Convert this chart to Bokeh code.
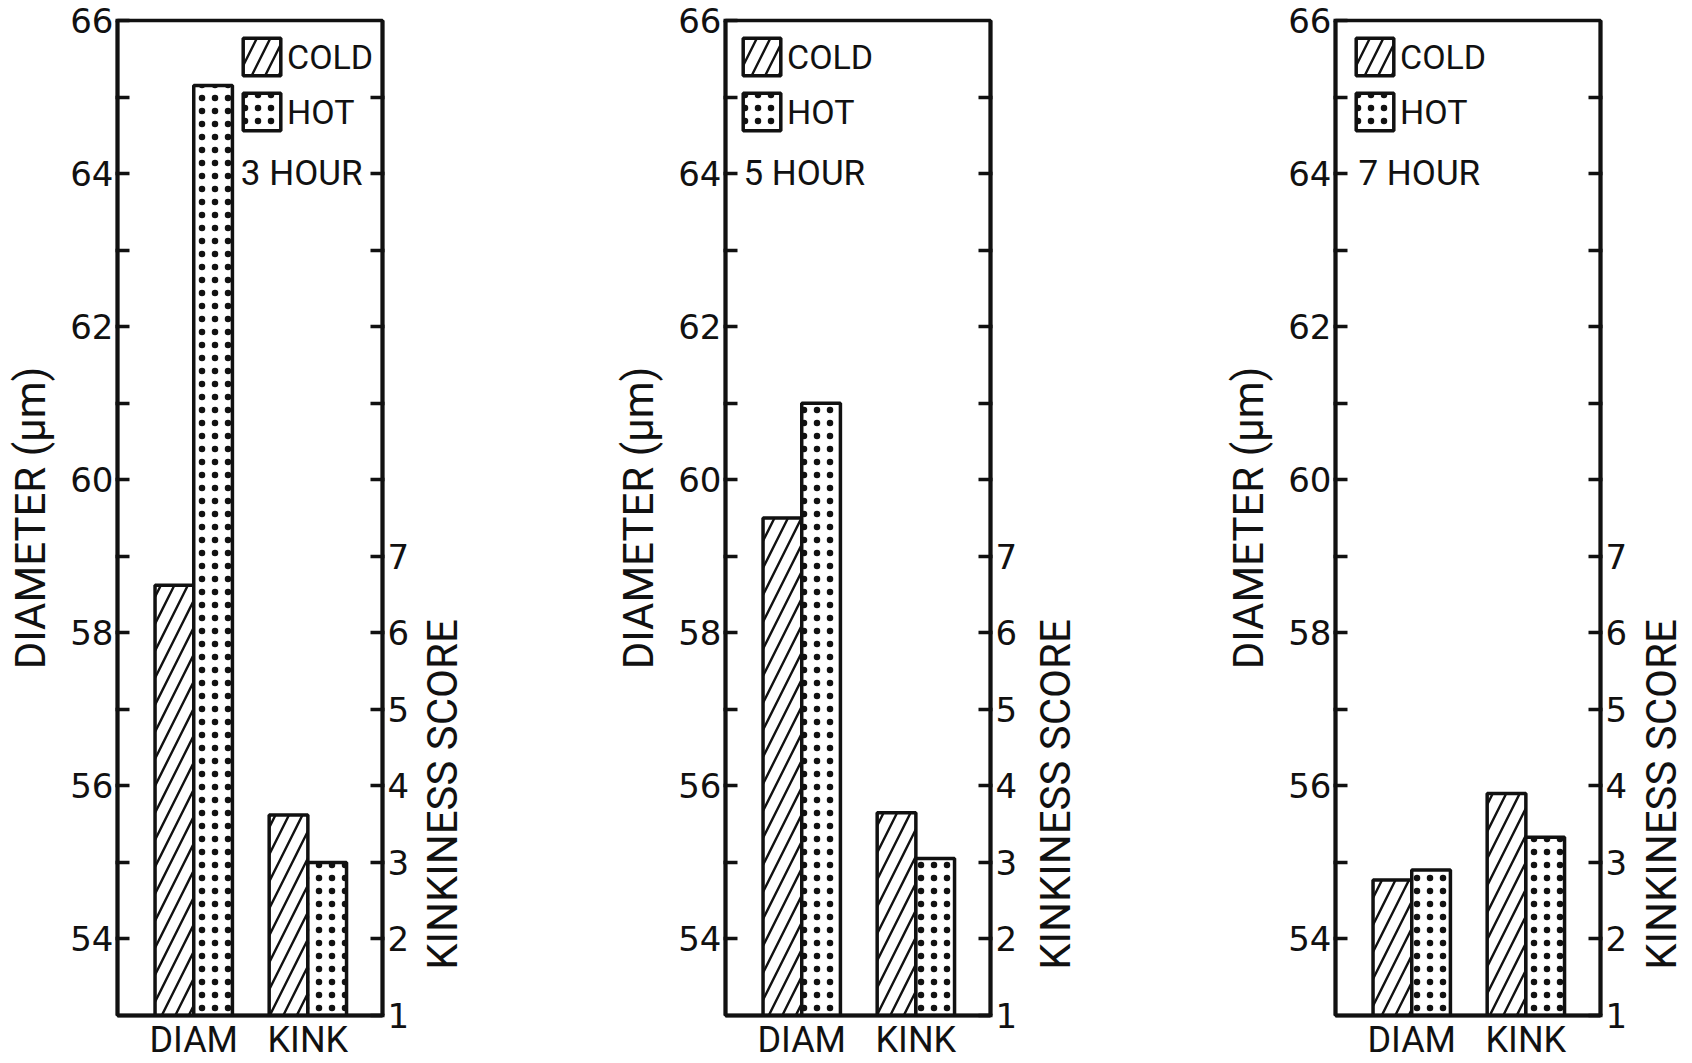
import numpy as np
from bokeh.plotting import figure
from bokeh.models import Range1d, LinearAxis, FixedTicker, Label, Legend, LegendItem
from bokeh.layouts import row
from bokeh.embed import file_html
from bokeh.resources import INLINE

# ---------------- data ----------------
hours = ["3 HOUR", "5 HOUR", "7 HOUR"]
groups = ["DIAM", "KINK"]
series = ["COLD", "HOT"]
diam_cold = [58.62, 59.50, 54.77]
diam_hot = [65.15, 61.00, 54.90]
kink_cold = [3.62, 3.65, 3.90]
kink_hot = [3.00, 3.05, 3.33]
diam_ticks = list(range(54, 67))
diam_labels = [str(t) if t % 2 == 0 else "" for t in diam_ticks]
kink_ticks = list(range(1, 14))
kink_labels = [str(t) if t <= 7 else "" for t in kink_ticks]
kink_title = "KINKINESS SCORE"
diam_title = "DIAMETER (μm)"

# ---------------- layout ----------------
H = 1063
FRAME_W = 265
FRAME_TOP = 20
BORDER_B = 46
FRAME_H = H - FRAME_TOP - BORDER_B
MAIN_BORDER_L = [117, 253, 250]
MAIN_BORDER_R = [30, 35, 31]
TITLE_W = 60
TITLE_NUDGE = 40        # screen px the rotated title is pushed down
XSPAN = 2.322           # frame width in group-spacing units
X0 = 1 - 0.668          # left edge of frame (DIAM centre = 1)
BAR_W = 0.339
INK = "#111111"
WORD_FONT = "Roboto"
NUM_FONT = "DejaVu Sans"


def px2x(px):
    return X0 + px / FRAME_W * XSPAN


legend_x = [121, 13, 16]
hour_pos = [(245, "right"), (18, "left"), (23, "left")]

GLYPH = 47
LEG_SPACING = 8
LEG_H = 2 * GLYPH + LEG_SPACING

children = []
for i, hour in enumerate(hours):
    bl, br = MAIN_BORDER_L[i], MAIN_BORDER_R[i]
    w = bl + FRAME_W + br
    p = figure(width=w, height=H, x_range=Range1d(X0, X0 + XSPAN), y_range=Range1d(53, 66),
               output_backend="svg", toolbar_location=None,
               min_border_left=bl, min_border_right=br,
               min_border_top=FRAME_TOP, min_border_bottom=BORDER_B)
    p.extra_y_ranges = {"kink": Range1d(1, 14)}
    p.grid.visible = False
    p.outline_line_color = INK
    p.outline_line_width = 3.5
    p.background_fill_color = "white"
    p.border_fill_color = "white"

    centers = [g + 1 for g in range(len(groups))]
    cold_x = [c - BAR_W / 2 for c in centers]
    hot_x = [c + BAR_W / 2 for c in centers]

    cold_style = dict(width=BAR_W, fill_color="white", line_color=INK, line_width=3.5,
                      hatch_pattern="/", hatch_color=INK, hatch_weight=2.4, hatch_scale=27)
    hot_style = dict(width=BAR_W, fill_color="white", line_color=INK, line_width=3.5,
                     hatch_pattern=".", hatch_color=INK, hatch_weight=1.6, hatch_scale=13)

    r_cd = p.vbar(x=[cold_x[0]], top=[diam_cold[i]], bottom=53, **cold_style)
    r_hd = p.vbar(x=[hot_x[0]], top=[diam_hot[i]], bottom=53, **hot_style)
    p.vbar(x=[cold_x[1]], top=[kink_cold[i]], bottom=1, y_range_name="kink", **cold_style)
    p.vbar(x=[hot_x[1]], top=[kink_hot[i]], bottom=1, y_range_name="kink", **hot_style)

    # left axis
    yax = p.yaxis[0]
    yax.ticker = FixedTicker(ticks=diam_ticks)
    yax.major_label_overrides = {t: l for t, l in zip(diam_ticks, diam_labels)}
    yax.major_tick_in = 12
    yax.major_tick_out = 2
    yax.major_tick_line_width = 3.5
    yax.major_tick_line_color = INK
    yax.minor_tick_line_color = None
    yax.axis_line_width = 4
    yax.axis_line_color = INK
    yax.major_label_text_font = NUM_FONT
    yax.major_label_text_font_size = "34px"
    yax.major_label_text_color = INK
    yax.major_label_standoff = 2
    yax.axis_label = diam_title
    yax.axis_label_text_font = WORD_FONT
    yax.axis_label_text_font_size = "42px"
    yax.axis_label_text_font_style = "normal"
    yax.axis_label_text_color = INK
    yax.axis_label_standoff = 12

    # right axis (kinkiness)
    rax = LinearAxis(y_range_name="kink", ticker=FixedTicker(ticks=kink_ticks),
                     major_label_overrides={t: l for t, l in zip(kink_ticks, kink_labels)})
    rax.major_tick_in = 12
    rax.major_tick_out = 2
    rax.major_tick_line_width = 3.5
    rax.major_tick_line_color = INK
    rax.minor_tick_line_color = None
    rax.axis_line_width = 4
    rax.axis_line_color = INK
    rax.major_label_text_font = NUM_FONT
    rax.major_label_text_font_size = "34px"
    rax.major_label_text_color = INK
    rax.major_label_standoff = 3
    p.add_layout(rax, "right")

    # bottom axis
    xax = p.xaxis[0]
    xax.ticker = FixedTicker(ticks=centers)
    xax.major_label_overrides = {c: g for c, g in zip(centers, groups)}
    xax.major_tick_in = 0
    xax.major_tick_out = 0
    xax.minor_tick_line_color = None
    xax.axis_line_width = 4
    xax.axis_line_color = INK
    xax.major_label_text_font = WORD_FONT
    xax.major_label_text_font_size = "36px"
    xax.major_label_text_color = INK
    xax.major_label_standoff = 3

    # legend
    legend = Legend(items=[LegendItem(label=series[0], renderers=[r_cd]),
                           LegendItem(label=series[1], renderers=[r_hd])],
                    location=(legend_x[i], FRAME_H - 15 - LEG_H),
                    glyph_width=GLYPH, glyph_height=GLYPH, spacing=LEG_SPACING,
                    padding=0, margin=0, label_standoff=2,
                    label_text_font=WORD_FONT, label_text_font_size="34px",
                    label_text_color=INK, border_line_color=None, background_fill_alpha=0)
    p.add_layout(legend)

    hx, halign = hour_pos[i]
    p.add_layout(Label(x=px2x(hx), y=64, text=hour, text_align=halign, text_baseline="middle",
                       text_font=WORD_FONT, text_font_size="35px", text_color=INK))
    children.append(p)

    # strip to the right carrying the kinkiness title, centred on the 1..7 score scale
    t = figure(width=TITLE_W, height=H, x_range=Range1d(0, 1), y_range=Range1d(0, H),
               output_backend="svg", toolbar_location=None, x_axis_type=None, y_axis_type=None,
               min_border_left=0, min_border_right=0, min_border_top=0, min_border_bottom=0)
    t.grid.visible = False
    t.outline_line_color = None
    t.background_fill_color = "white"
    t.border_fill_color = "white"
    score_mid = (kink_ticks[0] + 7) / 2 + 52          # score 4 sits at diameter 56
    sy = FRAME_TOP + (66 - score_mid) / 13 * FRAME_H + TITLE_NUDGE
    t.add_layout(Label(x=0.5, y=H - sy, text=kink_title, angle=np.pi / 2,
                       text_align="center", text_baseline="middle",
                       text_font=WORD_FONT, text_font_size="42px", text_color=INK))
    children.append(t)

layout = row(*children)
open("out.html", "w").write(file_html(layout, INLINE))
